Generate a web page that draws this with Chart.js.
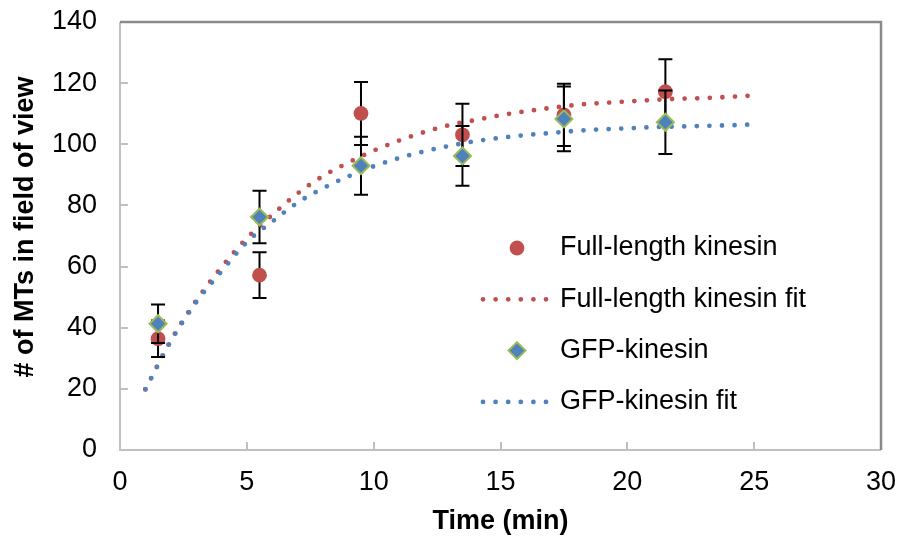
<!DOCTYPE html>
<html>
<head>
<meta charset="utf-8">
<script src="https://cdn.jsdelivr.net/npm/chart.js@4.4.0/dist/chart.umd.min.js"></script>
<style>
  html, body { margin: 0; padding: 0; background: #fff; }
  #wrap { width: 904px; height: 542px; }
</style>
</head>
<body>
<div id="wrap"><canvas id="grafica" width="904" height="542"></canvas></div>
<script type="text/javascript">

    // tiempos de medida (min)
    var tiempos = [1.5, 5.5, 9.5, 13.5, 17.5, 21.5]
    // # de MTs, kinesina completa y su error
    var fullLength = [36.4, 57.2, 110.1, 103.1, 109.6, 117.2]
    var fullLengthErr = [6.0, 7.5, 10.3, 10.2, 10.2, 10.6]
    // # de MTs, GFP-kinesina y su error
    var gfp = [41.3, 76.2, 93.0, 96.2, 108.3, 107.2]
    var gfpErr = [6.3, 8.6, 9.5, 9.8, 10.6, 10.4]

    // curvas de ajuste
    var fitTiempos = [1, 2, 3, 4, 5, 6, 7, 8, 9, 10, 11, 12, 13, 14, 15, 16, 17, 18, 19, 20, 21, 22, 23, 24, 25]
    var fullLengthFit = [19.8, 35.8, 48.8, 59.8, 69.3, 76.9, 83.9, 89.6, 94.0, 97.9, 101.2, 104.0, 106.3, 107.9, 109.5, 110.8, 111.9, 112.9, 113.5, 114.0, 114.5, 114.9, 115.1, 115.5, 116.0]
    var gfpFit = [19.9, 35.5, 48.3, 58.4, 68.0, 74.7, 80.9, 85.6, 89.5, 92.8, 95.5, 97.7, 99.5, 101.0, 102.1, 103.0, 103.7, 104.4, 104.9, 105.2, 105.6, 105.8, 106.0, 106.2, 106.5]

    var tituloY = '# of MTs in field of view'

    var rojo = '#C0504D'
    var azul = '#4F81BD'
    var verde = '#9BBB59'
    var fuente = "'Liberation Sans', Arial, sans-serif"

    function pares(xs, ys) {
        return xs.map(function (x, i) { return {x: x, y: ys[i]} })
    }

    var canvas = document.getElementById('grafica')
    var context = canvas.getContext('2d')

    var marco = {
        id: 'marco',
        beforeDatasetsDraw: function (chart) {
            var ctx = chart.ctx, a = chart.chartArea
            var sx = chart.scales.x, sy = chart.scales.y
            ctx.save()
            ctx.lineWidth = 2
            ctx.strokeStyle = '#c0c0c0'
            ctx.beginPath()
            sx.ticks.forEach(function (t) {
                var px = Math.round(sx.getPixelForValue(t.value))
                ctx.moveTo(px, a.bottom)
                ctx.lineTo(px, a.bottom - 8)
            })
            sy.ticks.forEach(function (t) {
                var py = Math.round(sy.getPixelForValue(t.value))
                ctx.moveTo(a.left, py)
                ctx.lineTo(a.left + 8, py)
            })
            ctx.moveTo(a.left, a.top)
            ctx.lineTo(a.left, a.bottom)
            ctx.lineTo(a.right, a.bottom)
            ctx.stroke()
            ctx.strokeStyle = '#8a8a8a'
            ctx.lineWidth = 2.5
            ctx.beginPath()
            ctx.moveTo(a.left, a.top)
            ctx.lineTo(a.right, a.top)
            ctx.lineTo(a.right, a.bottom)
            ctx.stroke()

            // titulo del eje Y
            ctx.translate(26, 227)
            ctx.rotate(-Math.PI / 2)
            ctx.font = 'bold 27px ' + fuente
            ctx.fillStyle = '#000'
            ctx.textAlign = 'center'
            ctx.textBaseline = 'middle'
            ctx.fillText(tituloY, 0, 0)
            ctx.restore()
        },
        // barras de error justo antes de los marcadores de cada serie
        beforeDatasetDraw: function (chart, args) {
            var ds = chart.data.datasets[args.index]
            if (!ds.errores) return
            var ctx = chart.ctx, sy = chart.scales.y
            ctx.save()
            ctx.strokeStyle = '#000'
            ctx.lineWidth = 2
            ctx.beginPath()
            args.meta.data.forEach(function (p, i) {
                var v = ds.data[i].y, e = ds.errores[i]
                var y1 = sy.getPixelForValue(v + e), y2 = sy.getPixelForValue(v - e)
                ctx.moveTo(p.x, y1); ctx.lineTo(p.x, y2)
                ctx.moveTo(p.x - 7, y1); ctx.lineTo(p.x + 7, y1)
                ctx.moveTo(p.x - 7, y2); ctx.lineTo(p.x + 7, y2)
            })
            ctx.stroke()
            ctx.restore()
        },
        afterDraw: function (chart) {
            var ctx = chart.ctx, a = chart.chartArea
            ctx.save()
            ctx.font = '27px ' + fuente
            ctx.textBaseline = 'middle'
            chart.data.datasets.forEach(function (ds, fila) {
                var y = a.top + 226 + fila * 51.3
                var xm = a.left + 397
                if (ds.type === 'line') {
                    ctx.save()
                    ctx.strokeStyle = ds.borderColor
                    ctx.lineWidth = ds.borderWidth
                    ctx.lineCap = 'round'
                    ctx.setLineDash(ds.borderDash)
                    ctx.beginPath()
                    ctx.moveTo(xm - 34, y)
                    ctx.lineTo(xm + 31, y)
                    ctx.stroke()
                    ctx.restore()
                } else if (ds.pointStyle === 'circle') {
                    ctx.beginPath()
                    ctx.fillStyle = ds.backgroundColor
                    ctx.arc(xm, y, ds.pointRadius, 0, Math.PI * 2)
                    ctx.fill()
                } else {
                    var r = ds.pointRadius
                    ctx.beginPath()
                    ctx.moveTo(xm, y - r); ctx.lineTo(xm + r, y)
                    ctx.lineTo(xm, y + r); ctx.lineTo(xm - r, y)
                    ctx.closePath()
                    ctx.fillStyle = ds.backgroundColor
                    ctx.fill()
                    ctx.lineWidth = ds.borderWidth
                    ctx.strokeStyle = ds.borderColor
                    ctx.stroke()
                }
                ctx.fillStyle = '#000'
                ctx.fillText(ds.label, a.left + 440, y)
            })
            ctx.restore()
        }
    }

    window.grafica = new Chart(context, {
        type: 'scatter',
        data: {
            datasets: [{
                label: 'Full-length kinesin',
                data: pares(tiempos, fullLength),
                errores: fullLengthErr,
                pointStyle: 'circle',
                pointRadius: 7.4,
                backgroundColor: rojo,
                borderColor: rojo,
                borderWidth: 0,
                order: 2
            }, {
                label: 'Full-length kinesin fit',
                type: 'line',
                data: pares(fitTiempos, fullLengthFit),
                borderColor: rojo,
                borderWidth: 4.8,
                borderDash: [0, 12.6],
                borderCapStyle: 'round',
                cubicInterpolationMode: 'monotone',
                pointRadius: 0,
                fill: false,
                order: 4
            }, {
                label: 'GFP-kinesin',
                data: pares(tiempos, gfp),
                errores: gfpErr,
                pointStyle: 'rectRot',
                pointRadius: 8.5,
                backgroundColor: azul,
                borderColor: verde,
                borderWidth: 2,
                order: 1
            }, {
                label: 'GFP-kinesin fit',
                type: 'line',
                data: pares(fitTiempos, gfpFit),
                borderColor: azul,
                borderWidth: 4.8,
                borderDash: [0, 12.6],
                borderCapStyle: 'round',
                cubicInterpolationMode: 'monotone',
                pointRadius: 0,
                fill: false,
                order: 3
            }]
        },
        options: {
            responsive: false,
            animation: false,
            devicePixelRatio: 1,
            layout: { padding: { left: 0, right: 23, top: 22, bottom: 0 } },
            plugins: { legend: { display: false }, tooltip: { enabled: false } },
            scales: {
                x: {
                    type: 'linear',
                    min: 0, max: 30,
                    afterFit: function (scale) {
                        scale.height = 92
                        scale.paddingLeft = 0
                        scale.paddingRight = 0
                    },
                    grid: { display: false, drawTicks: false },
                    border: { display: false },
                    ticks: { stepSize: 5, padding: 16.5, color: '#000', font: { family: fuente, size: 27 } },
                    title: { display: true, text: 'Time (min)', color: '#000', padding: { top: 0, bottom: 4 },
                             font: { family: fuente, size: 27, weight: 'bold' } }
                },
                y: {
                    type: 'linear',
                    min: 0, max: 140,
                    afterFit: function (scale) {
                        scale.width = 120
                        scale.paddingTop = 0
                        scale.paddingBottom = 0
                    },
                    grid: { display: false, drawTicks: false },
                    border: { display: false },
                    ticks: { stepSize: 20, padding: 23, color: '#000', font: { family: fuente, size: 27 } },
                    title: { display: false }
                }
            }
        },
        plugins: [marco]
    });

</script>
</body>
</html>
